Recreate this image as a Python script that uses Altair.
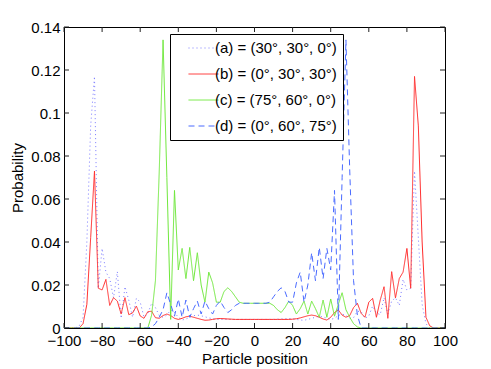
import altair as alt
import pandas as pd

positions = list(range(-100, 101, 2))

labels = [
    "(a) = (30°, 30°, 0°)",
    "(b) = (0°, 30°, 30°)",
    "(c) = (75°, 60°, 0°)",
    "(d) = (0°, 60°, 75°)",
]

prob_a = [0, 0, 0, 0, 0.001, 0.005, 0.040, 0.094, 0.117, 0.0185,
          0.037, 0.026, 0.023, 0.014, 0.0262, 0.0045, 0.0192, 0.013, 0.005, 0.0138,
          0.012, 0.005, 0.0068, 0.0115, 0.0095, 0.0058, 0.005, 0.006, 0.0084, 0.0072,
          0.005, 0.0037, 0.0042, 0.005, 0.0057, 0.006, 0.0057, 0.0052, 0.0047, 0.0043,
          0.0041, 0.004, 0.004, 0.004, 0.004, 0.004, 0.004, 0.004, 0.004, 0.004,
          0.004, 0.004, 0.004, 0.004, 0.004, 0.004, 0.0041, 0.0042, 0.0043, 0.0044,
          0.0043, 0.0040, 0.0037, 0.0036, 0.0040, 0.0045, 0.0050, 0.0055, 0.0052, 0.0045,
          0.0040, 0.0045, 0.0058, 0.0065, 0.0058, 0.0045, 0.0048, 0.0078, 0.0076, 0.0045,
          0.0056, 0.0102, 0.0070, 0.0062, 0.0141, 0.0065, 0.0125, 0.0141, 0.0105, 0.0226,
          0.0177, 0.0185, 0.073, 0.042, 0.011, 0.002, 0, 0, 0, 0,
          0]

prob_b = [0, 0, 0, 0, 0, 0.002, 0.011, 0.042, 0.073, 0.0185,
          0.0177, 0.0226, 0.0105, 0.0141, 0.0125, 0.0065, 0.0141, 0.0062, 0.0070, 0.0102,
          0.0056, 0.0045, 0.0076, 0.0078, 0.0048, 0.0045, 0.0058, 0.0065, 0.0058, 0.0045,
          0.0040, 0.0045, 0.0052, 0.0055, 0.0050, 0.0045, 0.0040, 0.0036, 0.0037, 0.0040,
          0.0043, 0.0044, 0.0043, 0.0042, 0.0041, 0.004, 0.004, 0.004, 0.004, 0.004,
          0.004, 0.004, 0.004, 0.004, 0.004, 0.004, 0.004, 0.004, 0.004, 0.004,
          0.0041, 0.0043, 0.0047, 0.0052, 0.0057, 0.0060, 0.0057, 0.0050, 0.0042, 0.0037,
          0.0050, 0.0072, 0.0084, 0.0060, 0.0050, 0.0058, 0.0095, 0.0115, 0.0068, 0.0050,
          0.0120, 0.0138, 0.0050, 0.0130, 0.0192, 0.0045, 0.0262, 0.0140, 0.0230, 0.0260,
          0.0370, 0.0185, 0.1170, 0.0940, 0.0400, 0.0050, 0.0010, 0, 0, 0,
          0]

prob_c = [0, 0, 0, 0, 0, 0, 0, 0, 0, 0,
          0, 0, 0, 0, 0, 0, 0, 0, 0, 0,
          0, 0, 0, 0.006, 0.022, 0.073, 0.134, 0.070, 0.004, 0.064,
          0.027, 0.037, 0.023, 0.0375, 0.022, 0.035, 0.020, 0.012, 0.026, 0.021,
          0.012, 0.012, 0.017, 0.0187, 0.017, 0.0145, 0.012, 0.0115, 0.0115, 0.0115,
          0.0115, 0.0115, 0.0115, 0.0115, 0.0115, 0.0105, 0.0085, 0.0072, 0.0095, 0.0125,
          0.0105, 0.0065, 0.009, 0.0125, 0.0065, 0.0125, 0.009, 0.005, 0.013, 0.005,
          0.0135, 0.0055, 0.011, 0.0164, 0.0085, 0.005, 0.002, 0.0005, 0, 0,
          0, 0, 0, 0, 0, 0, 0, 0, 0, 0,
          0, 0, 0, 0, 0, 0, 0, 0, 0, 0,
          0]

prob_d = [0, 0, 0, 0, 0, 0, 0, 0, 0, 0,
          0, 0, 0, 0, 0, 0, 0, 0, 0, 0,
          0, 0, 0, 0.0005, 0.002, 0.005, 0.0085, 0.0164, 0.011, 0.0055,
          0.0135, 0.005, 0.013, 0.005, 0.009, 0.0125, 0.0065, 0.0125, 0.009, 0.0065,
          0.0105, 0.0125, 0.0095, 0.0072, 0.0085, 0.0105, 0.0115, 0.0115, 0.0115, 0.0115,
          0.0115, 0.0115, 0.0115, 0.0115, 0.012, 0.0145, 0.017, 0.0187, 0.017, 0.012,
          0.012, 0.021, 0.026, 0.012, 0.020, 0.035, 0.022, 0.0375, 0.023, 0.037,
          0.027, 0.064, 0.004, 0.070, 0.134, 0.073, 0.022, 0.006, 0, 0,
          0, 0, 0, 0, 0, 0, 0, 0, 0, 0,
          0, 0, 0, 0, 0, 0, 0, 0, 0, 0,
          0]

x_ticks = [-100, -80, -60, -40, -20, 0, 20, 40, 60, 80, 100]
y_ticks = [0, 0.02, 0.04, 0.06, 0.08, 0.1, 0.12, 0.14]

colors = ["#7b7bff", "#ff2a2a", "#6ee83a", "#4a6bff"]
dashes = [[1, 3], [1, 0], [1, 0], [6, 4]]

rows = []
for lab, series in zip(labels, [prob_a, prob_b, prob_c, prob_d]):
    for p, v in zip(positions, series):
        rows.append({"series": lab, "pos": p, "prob": v})
df = pd.DataFrame(rows)

W, H = 381, 301
FONT = "Liberation Sans"

xscale = alt.Scale(domain=[-100, 100], nice=False, zero=False)
yscale = alt.Scale(domain=[0, 0.14], nice=False)

xaxis = alt.Axis(values=x_ticks, format="d", title="Particle position",
                 ticks=False, domain=False, grid=False, labelPadding=5,
                 titlePadding=3, labelFlush=False)
yaxis = alt.Axis(values=y_ticks, format="~g", title="Probability",
                 ticks=False, domain=False, grid=False, labelPadding=4,
                 titlePadding=5, labelFlush=False)

lines = alt.Chart(df).mark_line(strokeWidth=1, clip=True).encode(
    x=alt.X("pos:Q", scale=xscale, axis=xaxis),
    y=alt.Y("prob:Q", scale=yscale, axis=yaxis),
    color=alt.Color("series:N", scale=alt.Scale(domain=labels, range=colors),
                    legend=alt.Legend(title=None, orient="none", legendX=106, legendY=7,
                                      direction="vertical", strokeColor="black",
                                      fillColor="white", padding=6,
                                      symbolType="M0.6,0H4.6", symbolSize=225,
                                      symbolStrokeWidth=1,
                                      labelFontSize=15, labelFont=FONT, rowPadding=10,
                                      labelOffset=23, cornerRadius=0, labelLimit=300)),
    strokeDash=alt.StrokeDash("series:N", scale=alt.Scale(domain=labels, range=dashes),
                              legend=None),
    order=alt.Order("pos:Q"),
)

xt = pd.DataFrame({"t": x_ticks})
yt = pd.DataFrame({"t": y_ticks})
tick_color = "#222222"

bottom_ticks = alt.Chart(xt).mark_rule(color=tick_color, strokeWidth=1).encode(
    x=alt.X("t:Q", scale=xscale, axis=xaxis), y=alt.value(H), y2=alt.value(H - 5))
top_ticks = alt.Chart(xt).mark_rule(color=tick_color, strokeWidth=1).encode(
    x=alt.X("t:Q", scale=xscale, axis=xaxis), y=alt.value(0), y2=alt.value(5))
left_ticks = alt.Chart(yt).mark_rule(color=tick_color, strokeWidth=1).encode(
    y=alt.Y("t:Q", scale=yscale, axis=yaxis), x=alt.value(0), x2=alt.value(5))
right_ticks = alt.Chart(yt).mark_rule(color=tick_color, strokeWidth=1).encode(
    y=alt.Y("t:Q", scale=yscale, axis=yaxis), x=alt.value(W), x2=alt.value(W - 5))

chart = alt.layer(lines, bottom_ticks, top_ticks, left_ticks, right_ticks).properties(
    width=W, height=H,
    autosize=alt.AutoSizeParams(type="none"),
    padding={"left": 56, "top": 19, "right": 38, "bottom": 40},
    background="white",
).configure_view(
    stroke="black", strokeWidth=1
).configure_axis(
    labelFont=FONT, titleFont=FONT, labelFontSize=15, titleFontSize=15,
    labelColor="black", titleColor="black", titleFontWeight="normal"
)

chart.save("out.html", embed_options={"renderer": "svg", "actions": False})
